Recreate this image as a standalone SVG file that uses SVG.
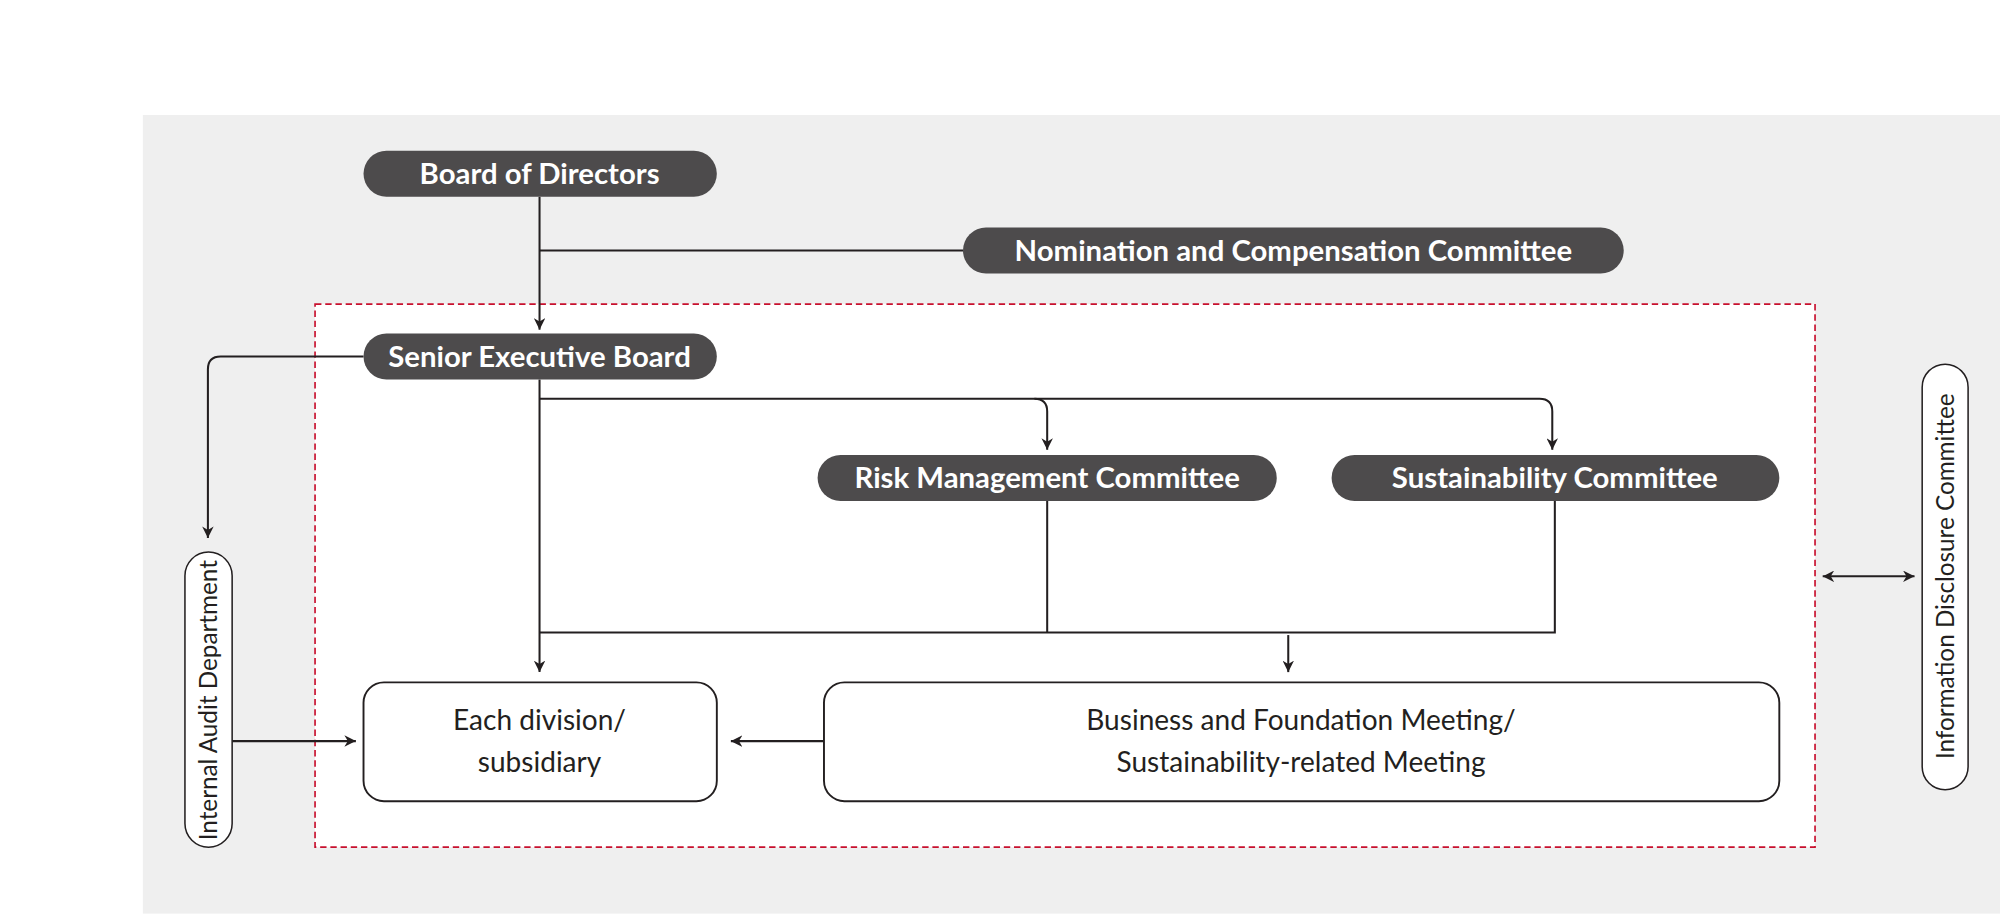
<svg xmlns="http://www.w3.org/2000/svg" width="2000" height="920" viewBox="0 0 2000 920">
<style>
.pill{fill:#4d4b4c}
.pt{fill:#fff;font-family:Lato,"Liberation Sans",sans-serif;font-weight:bold;font-size:23px;text-anchor:middle}
.box{fill:#fff;stroke:#231f20;stroke-width:1.5}
.bt{fill:#231f20;font-family:Lato,"Liberation Sans",sans-serif;font-size:22px;text-anchor:middle}
.vp{fill:#fff;stroke:#231f20;stroke-width:1.2}
.vt{fill:#231f20;font-family:Lato,"Liberation Sans",sans-serif;font-size:19px;text-anchor:middle}
.ln{fill:none;stroke:#231f20;stroke-width:1.6}
</style>
<defs>
<marker id="ah" viewBox="0 0 10 10" refX="10" refY="5" markerWidth="9" markerHeight="9" markerUnits="userSpaceOnUse" orient="auto-start-reverse"><path d="M0,0 L10,5 L0,10 L3,5 z" fill="#231f20"/></marker>
</defs>
<rect width="2000" height="920" fill="#fff"/>
<g transform="scale(1.2755,1.2778)">
<rect x="112" y="90" width="1456" height="625" fill="#efefef"/>
<rect x="247" y="238" width="1176" height="425" fill="#fff" stroke="#c8102e" stroke-width="1.3" stroke-dasharray="5,3"/>
<g id="connectors">
<path class="ln" d="M423,154 V258" marker-end="url(#ah)"/>
<path class="ln" d="M423,196 H755"/>
<path class="ln" d="M285,279 H173 Q163,279 163,289 V421" marker-end="url(#ah)"/>
<path class="ln" d="M423,297 V526" marker-end="url(#ah)"/>
<path class="ln" d="M423,312 H811 Q821,312 821,322 V352" marker-end="url(#ah)"/>
<path class="ln" d="M811,312 H1207 Q1217,312 1217,322 V352" marker-end="url(#ah)"/>
<path class="ln" d="M821,392 V495"/>
<path class="ln" d="M1219,392 V495 H423"/>
<path class="ln" d="M1010,497 V526" marker-end="url(#ah)"/>
<path class="ln" d="M182,580 H279" marker-end="url(#ah)"/>
<path class="ln" d="M646,580 H573" marker-end="url(#ah)"/>
<path class="ln" d="M1429,451 H1501" marker-start="url(#ah)" marker-end="url(#ah)"/>
</g>
<g id="board"><rect class="pill" x="285" y="118" width="277" height="36" rx="18"/><text class="pt" x="423" y="144">Board of Directors</text></g>
<g id="nomination"><rect class="pill" x="755" y="178" width="518" height="36" rx="18"/><text class="pt" x="1014" y="204">Nomination and Compensation Committee</text></g>
<g id="senior"><rect class="pill" x="285" y="261" width="277" height="36" rx="18"/><text class="pt" x="423" y="287">Senior Executive Board</text></g>
<g id="risk"><rect class="pill" x="641" y="356" width="360" height="36" rx="18"/><text class="pt" x="821" y="382">Risk Management Committee</text></g>
<g id="sustainability"><rect class="pill" x="1044" y="356" width="351" height="36" rx="18"/><text class="pt" x="1219" y="382">Sustainability Committee</text></g>
<g id="division"><rect class="box" x="285" y="534" width="277" height="93" rx="16"/><text class="bt" x="423" y="571">Each division/</text><text class="bt" x="423" y="604">subsidiary</text></g>
<g id="business"><rect class="box" x="646" y="534" width="749" height="93" rx="16"/><text class="bt" x="1020" y="571">Business and Foundation Meeting/</text><text class="bt" x="1020" y="604">Sustainability-related Meeting</text></g>
<g id="audit"><rect class="vp" x="145" y="432" width="37" height="231" rx="18.5"/><text class="vt" transform="translate(170,548) rotate(-90)">Internal Audit Department</text></g>
<g id="disclosure"><rect class="vp" x="1507" y="285" width="36" height="333" rx="18"/><text class="vt" transform="translate(1532,451) rotate(-90)">Information Disclosure Committee</text></g>
</g>
</svg>
